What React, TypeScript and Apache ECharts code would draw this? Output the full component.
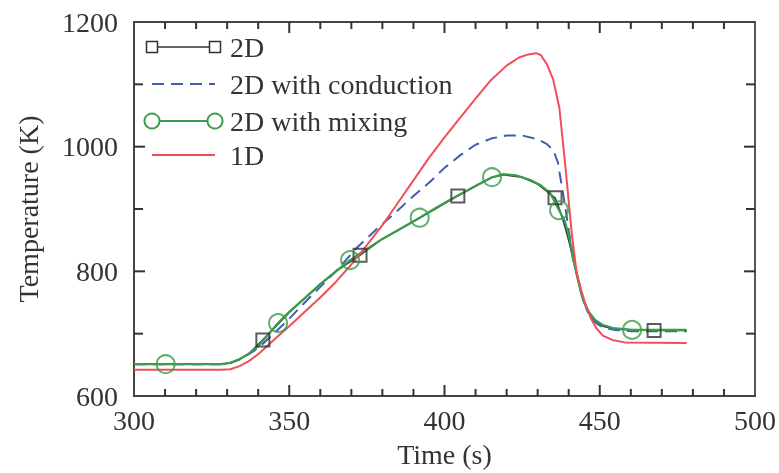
import React, { useEffect, useRef } from "react";
import * as echarts from "echarts";

const xTicks = [300, 350, 400, 450, 500];
const yTicks = [600, 800, 1000, 1200];
const xMinorStep = 10;
const yMinorStep = 100;

// 2D (black, squares)
const series2D: [number, number][] = [
  [300, 651], [328, 651], [331, 653], [334, 659], [337, 668], [341.5, 690], [346, 713], [350, 734],
  [355, 757], [360, 780], [365, 800], [372.8, 826], [380, 852], [390, 880], [404.3, 921],
  [410, 937], [415, 950], [419, 955], [425, 951], [430, 940], [435.6, 918], [437, 900],
  [438, 885], [439, 868], [440, 850], [441.4, 820], [443, 786], [444.6, 756], [446.5, 734],
  [448.5, 720], [451, 712], [455, 707], [467.5, 705], [478, 705],
];
const markers2D: [number, number][] = [
  [341.5, 690], [372.8, 826], [404.3, 921], [435.6, 918], [467.5, 705],
];

// 2D with conduction (blue dashed)
const seriesCond: [number, number][] = [
  [300, 651], [328, 651], [331, 653], [334, 659], [337, 667], [340, 677], [345, 700], [350, 724],
  [355, 750], [360, 775], [365, 800], [372, 839], [378, 867], [385, 898], [390, 921],
  [395, 942], [400, 966], [405, 986], [410, 1003], [415, 1013], [420, 1018], [425, 1018],
  [430, 1012], [433, 1004], [435, 995], [436.5, 975], [438, 930], [439, 900], [440, 865],
  [442, 810], [444, 765], [446, 736], [448, 720], [451, 710], [455, 706], [460, 704],
  [478, 704],
];

// 2D with mixing (green, circles)
const seriesMix: [number, number][] = [
  [300, 651], [328, 651], [331, 653], [334, 659], [337, 668], [340, 680], [346.4, 717], [350, 735],
  [355, 757], [360, 779], [365, 800], [369.6, 818], [375, 836], [380, 852], [385, 866],
  [392, 886], [398, 904], [404, 921], [410, 937], [415.3, 951], [419, 956], [423, 954],
  [427.5, 947], [431, 938], [434, 926], [436.9, 898], [438.8, 880], [440.4, 850],
  [441.4, 820], [443, 786], [444.6, 754], [446.5, 735], [448.5, 722], [451, 714],
  [454.3, 709], [460.4, 706], [478, 706],
];
const markersMix: [number, number][] = [
  [310.2, 651], [346.4, 717], [369.6, 818], [392, 886], [415.3, 951], [436.9, 898], [460.4, 706],
];

// 1D (red)
const series1D: [number, number][] = [
  [300, 642], [328, 642], [331, 643], [334, 648], [337, 656], [340, 667], [345, 690], [350, 712],
  [355, 735], [360, 758], [365, 783], [370, 811], [375, 842], [380, 874], [385, 910],
  [390, 946], [395, 982], [400, 1015], [405, 1046], [410, 1077], [415, 1107], [420, 1130],
  [424, 1143], [427, 1148], [429.5, 1150], [431, 1147], [433, 1132], [435, 1108], [437, 1062], [439, 965],
  [441, 860], [442.5, 800], [444, 770], [445.5, 746], [447, 726], [449, 708], [451, 697], [454, 690],
  [458, 686], [478, 685],
];

const legendNames = ["2D", "2D with conduction", "2D with mixing", "1D"];

const C_BLACK = "#333333";
const C_BLUE = "#3f5fae";
const C_GREEN = "#3a9c4c";
const C_RED = "#ef4f59";
const AXIS = "#444444";
const FONT = "Liberation Serif";
const FS = 28;

export default function App() {
  const ref = useRef<HTMLDivElement>(null);

  useEffect(() => {
    if (!ref.current) return;
    const chart = echarts.init(ref.current, undefined, { renderer: "svg" });

    const xMin = xTicks[0];
    const xMax = xTicks[xTicks.length - 1];
    const yMin = yTicks[0];
    const yMax = yTicks[yTicks.length - 1];

    const option: any = {
      animation: false,
      grid: { left: 134, right: 24, top: 22, bottom: 77, show: true, borderColor: AXIS, borderWidth: 1.8, backgroundColor: "rgba(0,0,0,0)" },
      xAxis: {
        type: "value",
        min: xMin,
        max: xMax,
        interval: 50,
        axisLine: { show: true, onZero: false, lineStyle: { color: AXIS, width: 1.8 } },
        axisTick: { show: false },
        splitLine: { show: false },
        axisLabel: { show: true, margin: 10, fontSize: FS, color: "#333", fontFamily: FONT },
        name: "Time (s)",
        nameLocation: "middle",
        nameGap: 44,
        nameTextStyle: { fontSize: FS, color: "#333", fontFamily: FONT },
      },
      yAxis: {
        type: "value",
        min: yMin,
        max: yMax,
        interval: 200,
        axisLine: { show: true, onZero: false, lineStyle: { color: AXIS, width: 1.8 } },
        axisTick: { show: false },
        splitLine: { show: false },
        axisLabel: {
          show: true, margin: 16, fontSize: FS, color: "#333", fontFamily: FONT,
          formatter: (v: number) => String(v),
        },
        name: "Temperature (K)",
        nameLocation: "middle",
        nameRotate: 90,
        nameGap: 92,
        nameTextStyle: { fontSize: FS, color: "#333", fontFamily: FONT },
      },
      series: [
        { name: "2D", type: "line", data: series2D, symbol: "none", lineStyle: { color: C_BLACK, width: 1.6 }, z: 2 },
        {
          name: "2D markers", type: "scatter", data: markers2D, symbol: "rect", symbolSize: 13,
          itemStyle: { color: "rgba(0,0,0,0)", borderColor: C_BLACK, borderWidth: 2 }, z: 6,
        },
        {
          name: "2D with conduction", type: "line", data: seriesCond, symbol: "none",
          lineStyle: { color: C_BLUE, width: 2, type: [12, 7] }, z: 3,
        },
        { name: "2D with mixing", type: "line", data: seriesMix, symbol: "none", lineStyle: { color: C_GREEN, width: 2.2 }, z: 4 },
        {
          name: "2D with mixing markers", type: "scatter", data: markersMix, symbol: "circle", symbolSize: 18,
          itemStyle: { color: "rgba(0,0,0,0)", borderColor: C_GREEN, borderWidth: 2 }, z: 7,
        },
        { name: "1D", type: "line", data: series1D, symbol: "none", lineStyle: { color: C_RED, width: 2 }, z: 5 },
      ],
    };

    chart.setOption(option);

    // Ticks on all four sides, positioned through the chart's own scales.
    const px = (v: number) => chart.convertToPixel({ xAxisIndex: 0 }, v) as number;
    const py = (v: number) => chart.convertToPixel({ yAxisIndex: 0 }, v) as number;
    const left = px(xMin);
    const right = px(xMax);
    const top = py(yMax);
    const bottom = py(yMin);
    const tickStyle = { stroke: "#333333", lineWidth: 2 };
    const g: any[] = [];
    for (let v = xMin + xMinorStep; v < xMax; v += xMinorStep) {
      const x = px(v);
      const len = v % 50 === 0 ? 11 : 7;
      g.push({ type: "line", z: 10, shape: { x1: x, y1: bottom, x2: x, y2: bottom - len }, style: tickStyle });
      g.push({ type: "line", z: 10, shape: { x1: x, y1: top, x2: x, y2: top + len }, style: tickStyle });
    }
    for (let v = yMin + yMinorStep; v < yMax; v += yMinorStep) {
      const y = py(v);
      const len = v % 200 === 0 ? 11 : 9;
      g.push({ type: "line", z: 10, shape: { x1: left, y1: y, x2: left + len, y2: y }, style: tickStyle });
      g.push({ type: "line", z: 10, shape: { x1: right, y1: y, x2: right - len, y2: y }, style: tickStyle });
    }

    // Legend
    const rowsY = [47, 84, 121, 155];
    const lx0 = 152;
    const lx1 = 215;
    const tx = 230;
    g.push({ type: "line", z: 20, shape: { x1: lx0, y1: rowsY[0], x2: lx1, y2: rowsY[0] }, style: { stroke: C_BLACK, lineWidth: 1.5 } });
    [lx0, lx1].forEach((x) =>
      g.push({ type: "rect", z: 21, shape: { x: x - 5.5, y: rowsY[0] - 5.5, width: 11, height: 11 }, style: { stroke: C_BLACK, fill: "#ffffff", lineWidth: 1.5 } })
    );
    g.push({ type: "line", z: 20, shape: { x1: lx0, y1: rowsY[1], x2: lx1, y2: rowsY[1] }, style: { stroke: C_BLUE, lineWidth: 2, lineDash: [12, 7] } });
    g.push({ type: "line", z: 20, shape: { x1: lx0, y1: rowsY[2], x2: lx1, y2: rowsY[2] }, style: { stroke: C_GREEN, lineWidth: 2 } });
    [lx0, lx1].forEach((x) =>
      g.push({ type: "circle", z: 21, shape: { cx: x, cy: rowsY[2], r: 7.5 }, style: { stroke: C_GREEN, fill: "#ffffff", lineWidth: 2 } })
    );
    g.push({ type: "line", z: 20, shape: { x1: lx0, y1: rowsY[3], x2: lx1, y2: rowsY[3] }, style: { stroke: C_RED, lineWidth: 2 } });
    legendNames.forEach((n, i) =>
      g.push({
        type: "text",
        z: 21,
        x: tx,
        y: rowsY[i],
        style: { text: n, fill: "#333333", fontSize: FS, fontFamily: FONT, verticalAlign: "middle" },
      })
    );

    chart.setOption({ graphic: g });
    return () => chart.dispose();
  }, []);

  return <div ref={ref} style={{ position: "fixed", left: 0, top: 0, width: 779, height: 473 }} />;
}
